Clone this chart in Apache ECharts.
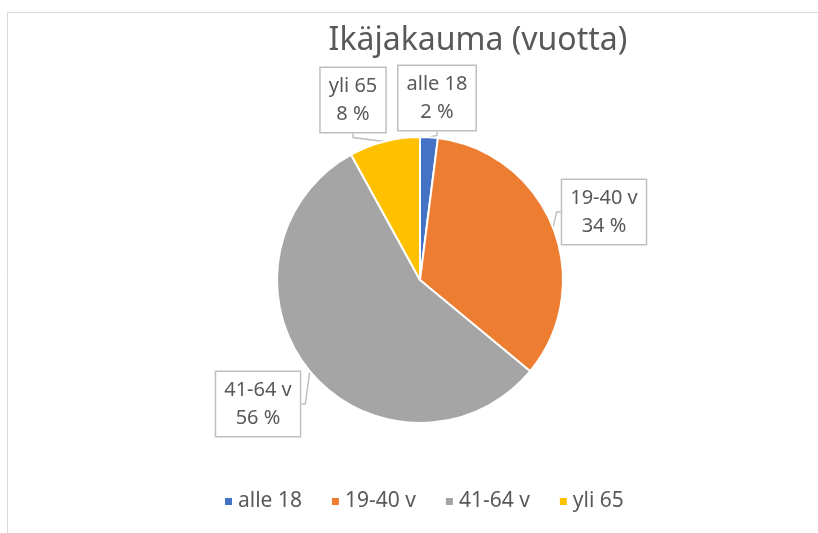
<!DOCTYPE html>
<html>
<head>
<meta charset="utf-8">
<script src="https://cdn.jsdelivr.net/npm/echarts@6/dist/echarts.min.js"></script>
<style>
  html, body { margin: 0; padding: 0; background: #fff; }
  #chart { width: 818px; height: 533px; }
</style>
</head>
<body>
<div id="chart"></div>
<script>
const categories = ["alle 18", "19-40 v", "41-64 v", "yli 65"];
const shares = [2, 34, 56, 8];
const COLORS = ["#4472c4", "#ed7d31", "#a5a5a5", "#ffc000"];
// callout box centres, one per slice
const LABEL_SPOTS = [[437, 98], [604, 212], [258, 404], [353, 100]];

const FONT = "'Noto Sans', 'Liberation Sans', sans-serif";
const chart = echarts.init(document.getElementById("chart"), null, { renderer: "canvas" });

chart.setOption({
  backgroundColor: "#fff",
  animation: false,
  color: COLORS,
  title: {
    text: "Ikäjakauma (vuotta)",
    left: 473,
    textAlign: "center",
    top: 20,
    textStyle: { fontFamily: FONT, fontSize: 32, fontWeight: "normal", color: "#595959" },
  },
  legend: {
    bottom: 16,
    left: 218,
    itemWidth: 9,
    itemHeight: 9,
    itemGap: 28,
    icon: "rect",
    textStyle: { fontFamily: FONT, fontSize: 21, color: "#595959" },
    data: categories,
  },
  graphic: [
    {
      type: "rect",
      shape: { x: 7.5, y: 12.5, width: 900, height: 600 },
      style: { fill: "none", stroke: "#d9d9d9", lineWidth: 1 },
      silent: true,
    },
  ],
  series: [
    {
      type: "pie",
      center: [420, 280],
      radius: 143,
      startAngle: 90,
      clockwise: true,
      itemStyle: { borderColor: "#fff", borderWidth: 2 },
      label: {
        show: true,
        formatter: (p) => `${p.name}\n${Math.round(p.percent)} %`,
        fontFamily: FONT,
        fontSize: 20,
        lineHeight: 28,
        color: "#595959",
        align: "center",
        backgroundColor: "#fff",
        borderColor: "#bfbfbf",
        borderWidth: 1.5,
        padding: [5, 8, 3, 8],
      },
      labelLine: { show: true, length: 6, length2: 4, lineStyle: { color: "#bfbfbf", width: 1.5 } },
      labelLayout: (params) => {
        const spot = LABEL_SPOTS[params.dataIndex];
        return { x: spot[0], y: spot[1], align: "center", verticalAlign: "middle" };
      },
      data: categories.map((name, i) => ({ name, value: shares[i] })),
    },
  ],
});
</script>
</body>
</html>
